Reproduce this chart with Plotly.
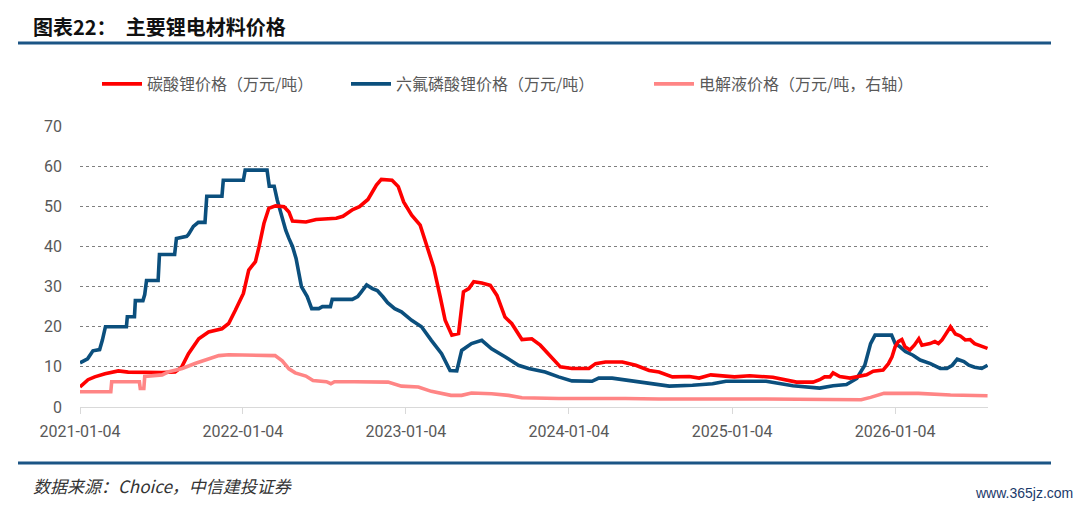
import plotly.graph_objects as go

# ---------------- data ----------------
li2co3_dates = ["2021-01-04","2021-01-22","2021-02-06","2021-03-01","2021-03-31","2021-04-22","2021-07-06","2021-08-05",
    "2021-08-20","2021-09-04","2021-09-27","2021-10-19","2021-11-18","2021-12-03","2021-12-18","2022-01-05","2022-01-17",
    "2022-02-01","2022-02-09","2022-02-20","2022-03-03","2022-03-18","2022-04-06","2022-04-17","2022-04-25","2022-05-25",
    "2022-06-17","2022-08-01","2022-08-16","2022-09-07","2022-09-22","2022-10-11","2022-10-30","2022-11-10","2022-12-04",
    "2022-12-18","2022-12-30","2023-01-17","2023-02-05","2023-02-24","2023-03-07","2023-03-22","2023-04-02","2023-04-17",
    "2023-05-02","2023-05-13","2023-05-25","2023-06-05","2023-06-23","2023-07-12","2023-07-27","2023-08-14","2023-08-29",
    "2023-09-21","2023-10-13","2023-11-01","2023-11-23","2023-12-16","2024-01-11","2024-02-18","2024-03-04","2024-03-26",
    "2024-05-03","2024-06-02","2024-07-02","2024-07-24","2024-08-23","2024-09-30","2024-10-22","2024-11-17","2025-01-09",
    "2025-02-12","2025-04-05","2025-05-28","2025-07-04","2025-07-19","2025-07-30","2025-08-11","2025-08-18","2025-09-02",
    "2025-09-25","2025-10-17","2025-11-01","2025-11-16","2025-12-08","2025-12-20","2025-12-28","2026-01-04","2026-01-11",
    "2026-01-19","2026-01-26","2026-02-06","2026-02-16","2026-02-26","2026-03-05","2026-03-23","2026-04-03","2026-04-11",
    "2026-04-19","2026-04-26","2026-05-08","2026-05-19","2026-05-30","2026-06-10","2026-06-21","2026-07-01","2026-07-13",
    "2026-07-30"]
li2co3_vals = [5.0,6.8,7.5,8.3,9.0,8.7,8.6,8.7,
    10.0,13.3,17.0,18.7,19.5,20.8,24.1,28.3,34.1,
    36.2,39.9,45.7,49.5,50.1,49.9,48.6,46.3,46.1,
    46.7,47.0,47.5,49.2,49.9,51.7,55.3,56.7,56.5,
    54.9,51.1,47.8,45.3,39.1,34.9,27.4,21.6,17.9,
    18.3,28.7,29.5,31.2,30.9,30.3,27.8,22.4,20.8,
    16.8,17.0,15.4,12.9,10.0,9.6,9.6,10.8,11.2,
    11.2,10.4,9.1,8.7,7.5,7.6,7.2,8.0,7.5,
    7.8,7.4,6.2,6.2,6.8,7.5,7.5,8.5,7.6,
    7.2,7.6,8.0,8.9,9.2,10.8,12.5,15.0,16.3,
    16.8,15.0,14.2,15.4,17.0,15.4,15.8,16.3,15.8,
    16.7,17.9,20.0,18.2,17.7,16.7,16.8,15.8,15.4,
    14.6]

lipf6_dates = ["2021-01-04","2021-01-21","2021-02-02","2021-02-17","2021-02-23","2021-03-02","2021-04-18","2021-04-20",
    "2021-05-06","2021-05-08","2021-05-25","2021-05-29","2021-06-02","2021-06-28","2021-07-01","2021-08-04","2021-08-08",
    "2021-08-31","2021-09-04","2021-09-15","2021-09-26","2021-10-11","2021-10-15","2021-11-18","2021-11-21","2022-01-05",
    "2022-01-09","2022-02-27","2022-03-04","2022-03-15","2022-03-22","2022-04-02","2022-04-10","2022-04-17","2022-04-25",
    "2022-05-03","2022-05-15","2022-05-28","2022-06-07","2022-06-23","2022-07-01","2022-07-19","2022-07-23","2022-09-06",
    "2022-09-18","2022-09-25","2022-10-08","2022-10-21","2022-11-01","2022-11-14","2022-11-24","2022-12-10","2022-12-25",
    "2023-01-17","2023-02-08","2023-03-02","2023-03-25","2023-04-13","2023-04-28","2023-05-09","2023-05-31","2023-06-23",
    "2023-07-15","2023-08-14","2023-09-13","2023-10-06","2023-11-12","2023-12-12","2024-01-11","2024-02-25","2024-03-11",
    "2024-04-10","2024-06-17","2024-08-16","2024-10-07","2024-11-21","2024-12-21","2025-03-21","2025-05-20","2025-07-19",
    "2025-08-18","2025-09-17","2025-10-10","2025-10-28","2025-11-10","2025-11-20","2025-12-27","2026-01-04","2026-01-15",
    "2026-01-27","2026-02-13","2026-03-01","2026-03-24","2026-04-15","2026-04-30","2026-05-12","2026-05-23","2026-06-07",
    "2026-06-18","2026-07-01","2026-07-17","2026-07-30"]
lipf6_vals = [11.0,12.0,14.0,14.3,16.6,20.0,20.0,22.5,
    22.5,26.5,26.5,28.0,31.5,31.5,38.0,38.0,42.0,
    42.5,43.0,45.0,46.0,46.0,52.5,52.5,56.5,56.5,
    59.0,59.0,55.0,55.0,51.5,47.0,44.0,42.0,40.0,
    37.0,30.0,27.5,24.5,24.5,25.0,25.0,26.8,26.8,
    27.5,28.5,30.4,29.5,29.0,27.4,26.0,24.5,23.7,
    21.6,20.0,16.6,13.3,9.1,9.0,14.1,15.8,16.6,
    14.5,12.5,10.4,9.6,8.7,7.5,6.5,6.4,7.2,
    7.2,6.2,5.2,5.4,5.8,6.4,6.4,5.3,4.7,
    5.3,5.6,7.1,10.4,15.8,17.9,17.9,15.8,15.0,
    13.8,12.9,11.7,10.8,9.6,9.6,10.4,11.9,11.3,
    10.4,9.9,9.6,10.4]

electrolyte_dates = ["2021-01-04","2021-03-14","2021-03-16","2021-05-17","2021-05-19","2021-05-27","2021-05-29","2021-07-07",
    "2021-07-22","2021-08-21","2021-09-20","2021-10-20","2021-11-11","2021-12-03","2022-03-10","2022-03-17","2022-04-02",
    "2022-04-17","2022-05-01","2022-05-25","2022-06-10","2022-07-10","2022-07-20","2022-07-28","2022-09-10","2022-11-25",
    "2022-12-25","2023-02-01","2023-03-02","2023-04-15","2023-05-09","2023-05-31","2023-07-15","2023-08-22","2023-09-21",
    "2023-12-12","2024-05-10","2024-07-24","2025-03-21","2025-08-18","2025-10-20","2025-11-10","2025-11-25","2025-12-10",
    "2026-02-25","2026-05-08","2026-07-30"]
electrolyte_vals = [3.8,3.8,6.3,6.3,4.6,4.6,7.6,8.0,
    8.8,9.6,10.9,12.1,12.8,13.0,13.0,12.8,11.5,
    9.5,8.5,7.7,6.6,6.3,5.8,6.3,6.3,6.2,
    5.2,5.0,3.9,2.9,2.9,3.5,3.3,2.9,2.3,
    2.1,2.1,2.0,2.0,1.8,1.8,2.4,3.0,3.4,
    3.4,3.0,2.8]

x_ticks = ["2021-01-04","2022-01-04","2023-01-04","2024-01-04","2025-01-04","2026-01-04"]
y_ticks = [0,10,20,30,40,50,60,70]

names = ["碳酸锂价格（万元/吨）", "六氟磷酸锂价格（万元/吨）", "电解液价格（万元/吨，右轴）"]
colors = ["#FF0000", "#0B4F7D", "#FF8585"]

# ---------------- layout geometry ----------------
W, H = 1080, 507
L, R, T, B = 80, 988, 126, 407
def px(xp):
    return (xp - L) / (R - L)
def py(yp):
    return (B - yp) / (B - T)

legend_left = [97, 346, 649]
legend_ids = ["legend", "legend2", "legend3"]

fig = go.Figure()
fig.add_trace(go.Scatter(x=electrolyte_dates, y=electrolyte_vals, mode="lines", name=names[2],
                         line=dict(color=colors[2], width=3.6), yaxis="y2", legend=legend_ids[2]))
fig.add_trace(go.Scatter(x=lipf6_dates, y=lipf6_vals, mode="lines", name=names[1],
                         line=dict(color=colors[1], width=3.6), legend=legend_ids[1]))
fig.add_trace(go.Scatter(x=li2co3_dates, y=li2co3_vals, mode="lines", name=names[0],
                         line=dict(color=colors[0], width=3.6), legend=legend_ids[0]))

axis_font = dict(family="Roboto, Liberation Sans, sans-serif", size=16, color="#595959")
legend_font = dict(family="Noto Sans CJK SC", size=16, color="#595959")

legend_cfg = {}
for lid, lx in zip(legend_ids, legend_left):
    legend_cfg[lid] = dict(orientation="h", x=px(lx), y=py(84), xanchor="left", yanchor="middle",
                           font=legend_font, itemwidth=40, bgcolor="rgba(0,0,0,0)", borderwidth=0)

fig.update_layout(
    width=W, height=H,
    margin=dict(l=L, r=W - R, t=T, b=H - B),
    paper_bgcolor="white", plot_bgcolor="white",
    showlegend=True,
    xaxis=dict(type="date", range=["2021-01-04", "2026-07-31"],
               tickvals=x_ticks, ticktext=x_ticks, tickfont=axis_font,
               showgrid=False, showline=True, linecolor="#D9D9D9", linewidth=1,
               ticks="outside", ticklen=6, tickcolor="#D9D9D9", zeroline=False,
               ticklabelstandoff=4),
    yaxis=dict(range=[0, 70], tickvals=y_ticks, tickfont=axis_font,
               showgrid=True, gridcolor="#7F7F7F", griddash="dot", gridwidth=1,
               zeroline=False, showline=False, ticks="", ticklabelstandoff=17),
    yaxis2=dict(range=[0, 70], overlaying="y", side="right", visible=False),
    **legend_cfg,
)

# header/footer decorations
fig.add_shape(type="line", xref="paper", yref="paper", x0=px(18), x1=px(1051), y0=py(43), y1=py(43),
              line=dict(color="#1B5585", width=3))
fig.add_shape(type="line", xref="paper", yref="paper", x0=px(18), x1=px(1051), y0=py(463), y1=py(463),
              line=dict(color="#1B5585", width=3))
fig.add_annotation(text="<b>图表22：  主要锂电材料价格</b>", xref="paper", yref="paper",
                   x=px(31), y=py(26), xanchor="left", yanchor="middle", showarrow=False,
                   font=dict(family="Noto Sans CJK SC", size=20, color="#111111"))
fig.add_annotation(text="<i>数据来源：Choice，中信建投证券</i>", xref="paper", yref="paper",
                   x=px(31), y=py(485), xanchor="left", yanchor="middle", showarrow=False,
                   font=dict(family="Noto Sans CJK SC", size=17, color="#333333"))
fig.add_annotation(text="www.365jz.com", xref="paper", yref="paper",
                   x=px(1075), y=py(493), xanchor="right", yanchor="middle", showarrow=False,
                   font=dict(family="Liberation Sans", size=14, color="#1B3A6B"))

fig.write_html("out.html", config={"displayModeBar": False},
               post_script="document.body.style.margin='0';document.body.style.overflow='hidden';")
